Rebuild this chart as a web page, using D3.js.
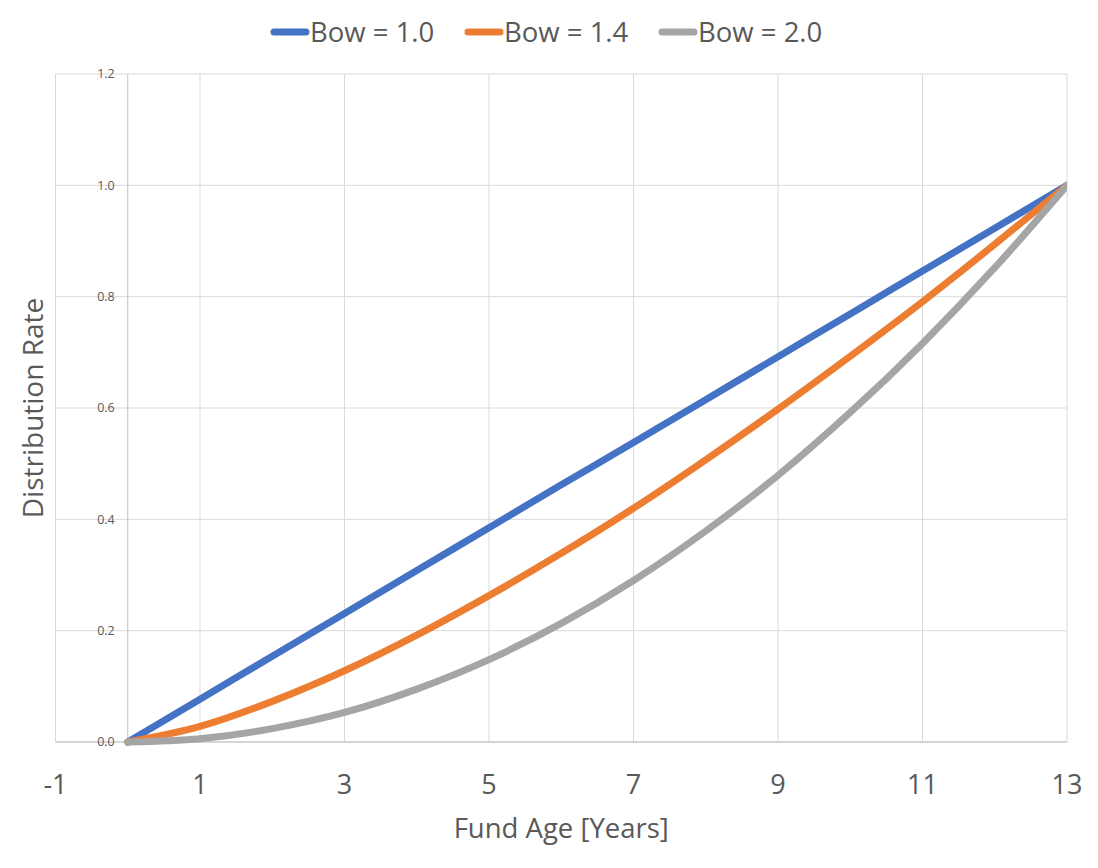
<!DOCTYPE html>
<html>
<head>
<meta charset="utf-8">
<script src="https://cdn.jsdelivr.net/npm/d3@7"></script>
<style>
  body { margin: 0; background: #fff; }
  svg { display: block; font-family: "Open Sans", sans-serif; }
</style>
</head>
<body>
<svg id="chart" width="1098" height="868"></svg>
<script>
// Values
const years = [0, 1, 2, 3, 4, 5, 6, 7, 8, 9, 10, 11, 12, 13];
const bow10 = [0, 0.077, 0.154, 0.231, 0.308, 0.385, 0.462, 0.538, 0.615, 0.692, 0.769, 0.846, 0.923, 1.0];
const bow14 = [0, 0.028, 0.073, 0.128, 0.192, 0.263, 0.339, 0.420, 0.507, 0.598, 0.693, 0.791, 0.894, 1.0];
const bow20 = [0, 0.006, 0.024, 0.053, 0.095, 0.148, 0.213, 0.290, 0.379, 0.479, 0.592, 0.716, 0.852, 1.0];
const seriesNames = ['Bow = 1.0', 'Bow = 1.4', 'Bow = 2.0'];
const seriesColors = ['#4472C4', '#ED7D31', '#A5A5A5'];
const xTicks = [-1, 1, 3, 5, 7, 9, 11, 13];
const yTicks = [0, 0.2, 0.4, 0.6, 0.8, 1.0, 1.2];

const series = [bow10, bow14, bow20].map((vals, i) => ({
  name: seriesNames[i],
  color: seriesColors[i],
  points: years.map((t, j) => ({ x: t, y: vals[j] }))
}));

const svg = d3.select('#chart');
const textColor = '#595959';

const plot = { left: 55.5, right: 1067, top: 74, bottom: 742 };

const x = d3.scaleLinear().domain([-1, 13]).range([plot.left, plot.right]);
const y = d3.scaleLinear().domain([0, 1.2]).range([plot.bottom, plot.top]);

// Gridlines
const grid = svg.append('g').attr('class', 'grid');
grid.selectAll('line.vgrid')
  .data(xTicks)
  .join('line')
  .attr('class', 'vgrid')
  .attr('x1', d => x(d)).attr('x2', d => x(d))
  .attr('y1', plot.top).attr('y2', plot.bottom)
  .attr('stroke', '#d9d9d9').attr('stroke-width', 1);

grid.selectAll('line.hgrid')
  .data(yTicks)
  .join('line')
  .attr('class', 'hgrid')
  .attr('x1', plot.left).attr('x2', plot.right)
  .attr('y1', d => y(d)).attr('y2', d => y(d))
  .attr('stroke', '#d9d9d9').attr('stroke-width', 1);

// Axis lines (y axis crosses at x = 0)
svg.append('line')
  .attr('x1', x(0)).attr('x2', x(0))
  .attr('y1', plot.top).attr('y2', plot.bottom)
  .attr('stroke', '#bfbfbf').attr('stroke-width', 1);
svg.append('line')
  .attr('x1', plot.left).attr('x2', plot.right)
  .attr('y1', y(0)).attr('y2', y(0))
  .attr('stroke', '#bfbfbf').attr('stroke-width', 1);

// Y tick labels, next to the axis at x = 0
svg.append('g')
  .selectAll('text')
  .data(yTicks)
  .join('text')
  .attr('x', x(0) - 13)
  .attr('y', d => y(d))
  .attr('dy', '0.35em')
  .attr('text-anchor', 'end')
  .attr('font-size', 12.5)
  .attr('fill', textColor)
  .text(d => d3.format('.1f')(d));

// X tick labels
svg.append('g')
  .selectAll('text')
  .data(xTicks)
  .join('text')
  .attr('x', d => x(d))
  .attr('y', 794)
  .attr('text-anchor', 'middle')
  .attr('font-size', 27)
  .attr('fill', textColor)
  .text(d => d);

// Axis titles
svg.append('text')
  .attr('x', (plot.left + plot.right) / 2)
  .attr('y', 838)
  .attr('text-anchor', 'middle')
  .attr('font-size', 27.5)
  .attr('fill', textColor)
  .text('Fund Age [Years]');

svg.append('text')
  .attr('transform', `translate(43, ${(plot.top + plot.bottom) / 2}) rotate(-90)`)
  .attr('text-anchor', 'middle')
  .attr('font-size', 28)
  .attr('fill', textColor)
  .text('Distribution Rate');

// Lines
svg.append('clipPath').attr('id', 'plot-clip')
  .append('rect')
  .attr('x', 0).attr('y', 0)
  .attr('width', plot.right).attr('height', 868);

const line = d3.line()
  .x(d => x(d.x))
  .y(d => y(d.y))
  .curve(d3.curveMonotoneX);

svg.append('g')
  .attr('clip-path', 'url(#plot-clip)')
  .selectAll('path')
  .data(series)
  .join('path')
  .attr('d', d => line(d.points))
  .attr('fill', 'none')
  .attr('stroke', d => d.color)
  .attr('stroke-width', 7)
  .attr('stroke-linecap', 'round')
  .attr('stroke-linejoin', 'round');

// Legend
const legendX = [271, 465, 659];
const legend = svg.append('g')
  .selectAll('g')
  .data(series)
  .join('g')
  .attr('transform', (d, i) => `translate(${legendX[i]}, 32)`);

legend.append('line')
  .attr('x1', 3).attr('x2', 35)
  .attr('stroke', d => d.color)
  .attr('stroke-width', 7)
  .attr('stroke-linecap', 'round');

legend.append('text')
  .attr('x', 39)
  .attr('y', 10)
  .attr('font-size', 27.5)
  .attr('fill', textColor)
  .text(d => d.name);
</script>
</body>
</html>
